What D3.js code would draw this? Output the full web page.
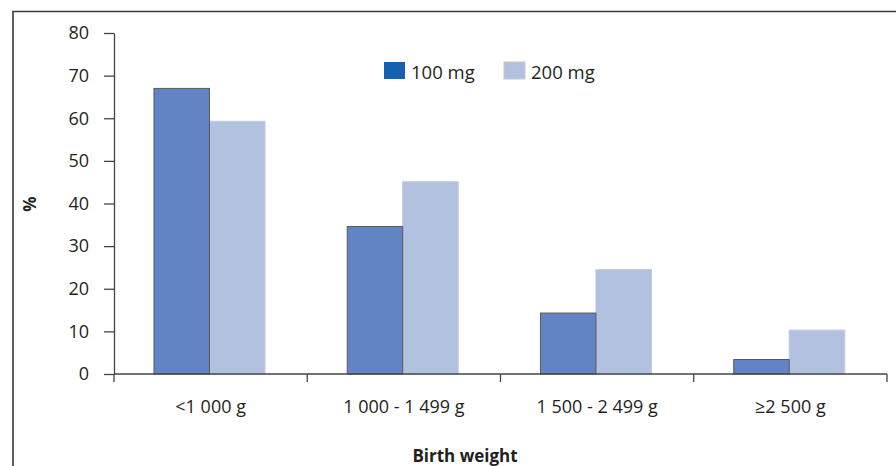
<!DOCTYPE html>
<html>
<head>
<meta charset="utf-8">
<script src="https://cdn.jsdelivr.net/npm/d3@7"></script>
<style>
  body { margin: 0; background: #fff; }
  svg { display: block; }
  text { font-family: "Open Sans", "Noto Sans", sans-serif; fill: #231f20; }
</style>
</head>
<body>
<svg id="chart" width="896" height="466"></svg>
<script>
const categories = ["<1 000 g", "1 000 - 1 499 g", "1 500 - 2 499 g", "≥2 500 g"];
const seriesNames = ["100 mg", "200 mg"];
const values100 = [67, 34.6, 14.3, 3.4];
const values200 = [59.3, 45.1, 24.5, 10.3];
const yTicks = [0, 10, 20, 30, 40, 50, 60, 70, 80];

const svg = d3.select("#chart");
const mLeft = 114, mRight = 887, mTop = 33, mBottom = 374;

// frame
svg.append("path")
  .attr("d", "M13,470 L13,11.5 L900,11.5")
  .attr("fill", "none").attr("stroke", "#3a3a3a").attr("stroke-width", 1.6);

const x0 = d3.scaleBand().domain(categories).range([mLeft, mRight]).paddingInner(0).paddingOuter(0);
const x1 = d3.scaleBand().domain(seriesNames).range([0, x0.bandwidth()])
  .paddingInner(0).paddingOuter(0.741).align(0.486);
const y = d3.scaleLinear().domain([0, 80]).range([mBottom, mTop]);

const fills = {"100 mg": "#6184c4", "200 mg": "#b3c1e1"};
const strokes = {"100 mg": "#5a5a5a", "200 mg": "#c4c8d2"};
const legendFills = {"100 mg": "#1560b0", "200 mg": "#b3c1e1"};

const data = categories.map((c, i) => ({cat: c, vals: [
  {s: "100 mg", v: values100[i]}, {s: "200 mg", v: values200[i]}
]}));

const g = svg.append("g");
const groups = g.selectAll("g.grp").data(data).join("g")
  .attr("transform", d => `translate(${x0(d.cat)},0)`);
groups.selectAll("rect").data(d => [d.vals[1], d.vals[0]]).join("rect")
  .attr("x", d => x1(d.s))
  .attr("y", d => y(d.v))
  .attr("width", x1.bandwidth())
  .attr("height", d => mBottom - y(d.v))
  .attr("fill", d => fills[d.s])
  .attr("stroke", d => strokes[d.s])
  .attr("stroke-width", 1);

// y axis
const yAxis = d3.axisLeft(y).tickValues(yTicks).tickSize(10).tickPadding(15).tickSizeOuter(0);
const ya = svg.append("g").attr("transform", `translate(${mLeft},0)`).call(yAxis);
ya.select(".domain").attr("stroke", "#444").attr("stroke-width", 1.3);
ya.selectAll(".tick line").attr("stroke", "#444").attr("stroke-width", 1.3);
ya.selectAll(".tick text").style("font-size", "18px").attr("fill", "#231f20")
  .style("font-family", "'Open Sans', 'Noto Sans', sans-serif");

// x axis: ticks at band boundaries, labels at band centres
const bounds = categories.map(c => x0(c)).concat([x0.range()[1]]);
const xa = svg.append("g");
xa.append("line").attr("x1", mLeft).attr("x2", mRight).attr("y1", mBottom).attr("y2", mBottom)
  .attr("stroke", "#444").attr("stroke-width", 1.3);
xa.selectAll("line.t").data(bounds).join("line").attr("class", "t")
  .attr("x1", d => d).attr("x2", d => d).attr("y1", mBottom).attr("y2", mBottom + 8)
  .attr("stroke", "#444").attr("stroke-width", 1.3);
xa.selectAll("text").data(categories).join("text")
  .attr("x", d => x0(d) + x0.bandwidth() / 2)
  .attr("y", 413)
  .attr("text-anchor", "middle")
  .style("font-size", "18px")
  .text(d => d);

// axis titles
svg.append("text").attr("transform", "translate(36,204) rotate(-90)")
  .attr("text-anchor", "middle").style("font-size", "17px").style("font-weight", "bold").text("%");
svg.append("text").attr("x", 465).attr("y", 462).attr("text-anchor", "middle")
  .style("font-size", "17px").style("font-weight", "bold").text("Birth weight");

// legend
const legendX = [384, 504];
const lg = svg.selectAll("g.leg").data(seriesNames).join("g").attr("class", "leg")
  .attr("transform", (d, i) => `translate(${legendX[i]},62)`);
lg.append("rect").attr("width", 21).attr("height", 17)
  .attr("fill", d => legendFills[d])
  .attr("stroke", d => d === "200 mg" ? "#c8c8c8" : "none");
lg.append("text").attr("x", 27).attr("y", 17).style("font-size", "18.5px").text(d => d);
</script>
</body>
</html>
